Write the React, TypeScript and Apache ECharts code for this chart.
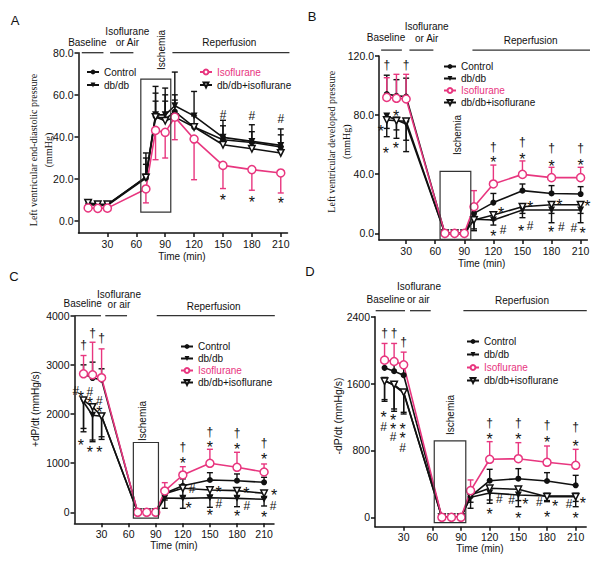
import React, { useEffect, useRef } from 'react';
import * as echarts from 'echarts';

const TIMES = [10, 20, 30, 70, 80, 90, 100, 120, 150, 180, 210];
const X_TICKS = [30, 60, 90, 120, 150, 180, 210];
const NAMES = ['Control', 'db/db', 'Isoflurane', 'db/db+isoflurane'];

// ---- Panel A: LV end-diastolic pressure (mmHg) ----
const ctrlA = [8, 7.5, 7.5, 20.5, 49.8, 48.5, 52, 44.7, 38.7, 37.4, 35.2];
const ctrlAErr = [9.5, 9, 9, 30, 60.8, 60, 57.5, 50, 45.3, 42.5, 41];
const dbA = [8.5, 7.8, 7.8, 21, 50.5, 50.5, 54.8, 50, 39.8, 37.9, 36];
const dbAErr = [9.8, 9.2, 9.2, 32.4, 64, 63.2, 70.8, 61.6, 47.9, 45.8, 43.8];
const isoA = [6.3, 6.1, 6.2, 15.3, 43.1, 42.2, 49.4, 39, 26.5, 24.5, 22.9];
const isoAErr = [5.5, 5.3, 5.4, 8.7, 29.2, 30, 38.7, 19.7, 15.5, 14.7, 13.4];
const dbisoA = [8.8, 8, 8, 20.8, 49.5, 47.7, 49.4, 44.7, 36.3, 34.4, 32.4];
const dbisoAErr = [9.6, 8.8, 8.8, 27, 57, 57, 60, 46, 40, 37.5, 35.5];
const yTicksA = [0, 20, 40, 60, 80];
const annA: [number, number, string][] = [
  [150, 50.5, '#'], [180, 50, '#'], [210, 48.5, '#'],
  [150, 11.8, '*'], [180, 11, '*'], [210, 10.3, '*'],
];
const periodsA = [[3.4, 25.9, 80], [32.8, 57, 80], [97.5, 219, 80]];
const boxA = [64.7, 95.8, 4.3, 67.5];
const boxLabelA = [85.8, 81.3];

// ---- Panel B: LV developed pressure (mmHg) ----
const ctrlB = [94.3, 93, 92.5, 0, 0, 0, 13.5, 20.8, 28.9, 27, 26.6];
const ctrlBErr = [107, 104, 105, null, null, null, 18, 27, 33.4, 32.3, 31.6];
const dbB = [79.4, 76.7, 74, 0, 0, 0, 9.5, 9, 15.8, 15.8, 15.8];
const dbBErr = [65.4, 64.3, 55.3, null, null, null, 1.8, 5.6, 10.6, 7.2, 7.2];
const isoB = [92, 91.4, 90.9, 0, 0, 0, 18, 33.4, 39.9, 37.7, 37.7];
const isoBErr = [105.3, 107.6, 107.6, null, null, null, 28.9, 46.2, 49, 44.7, 44.7];
const dbisoB = [76.7, 76.2, 75.8, 0, 0, 0, 9, 12.4, 18, 19.4, 19.4];
const dbisoBErr = [71, 70, 63, null, null, null, 3, 9, 13.5, 13.5, 13.5];
const yTicksB = [0, 40, 80, 120];
const annB: [number, number, string][] = [
  [10, 114, '†'], [30, 114, '†'], [4, 71.7, '*'], [19.7, 81.7, '*'], [9, 56.8, '*'], [19.5, 60.2, '*'],
  [120, 58.6, '†'], [120, 50.8, '*'], [150, 62, '†'], [150, 53, '*'],
  [180, 58, '†'], [180, 48, '*'], [210, 58, '†'], [210, 48.5, '*'],
  [128, 16.2, '*'], [158, 20.3, '*'], [188, 21.4, '*'], [217, 20.7, '*'],
  [120, 0.5, '*'], [130, 2.3, '#'], [148.5, 3.8, '*'], [158, 5, '#'],
  [179.5, 3.4, '*'], [190, 4.5, '#'], [203, 3.8, '#'], [212, 2.7, '*'],
];
const periodsB = [[4.2, 25.6, 124], [33.4, 58.1, 124], [98.4, 219.7, 124]];
const boxB = [65, 96.7, -4, 42];
const boxLabelB = [82.9, 66.5];

// ---- Panel C: +dP/dt (mmHg/s) ----
const ctrlC = [2818, 2731, 2697, 0, 0, 0, 386, 540, 657, 643, 610];
const ctrlCErr = [3000, 3055, 2920, null, null, null, 480, 680, 806, 780, 712];
const dbC = [2245, 1975, 1955, 0, 0, 0, 290, 284, 297, 284, 264];
const dbCErr = [1706, 1436, 1483, null, null, null, 81, 81, 101, 114, 128];
const isoC = [2818, 2798, 2738, 0, 0, 0, 434, 759, 997, 916, 820];
const isoCErr = [3190, 3460, 3325, null, null, null, 603, 928, 1282, 1221, 983];
const dbisoC = [2279, 2144, 1955, 0, 0, 0, 380, 488, 454, 440, 386];
const dbisoCErr = [1638, 1470, 1537, null, null, null, 250, 330, 340, 330, 300];
const yTicksC = [0, 1000, 2000, 3000, 4000];
const annC: [number, number, string][] = [
  [10, 3404, '†'], [20, 3642, '†'], [30, 3540, '†'],
  [1.5, 2474, '#'], [7.1, 2407, '*'], [17.1, 2454, '#'], [17.1, 2285, '*'], [27.4, 2271, '#'], [27.4, 2116, '*'],
  [7.1, 1437, '*'], [17.1, 1302, '*'], [27.4, 1302, '*'],
  [120, 1335, '†'], [120, 1064, '*'], [150, 1640, '†'], [150, 1404, '*'],
  [180, 1607, '†'], [180, 1369, '*'], [210, 1416, '†'], [210, 1146, '*'],
  [130.4, 468, '#'], [159.7, 488, '*'], [190.4, 468, '*'], [221, 419, '*'],
  [126.3, 162, '*'], [160, 162, '#'], [191, 128, '#'], [220, 128, '#'],
  [150, 13, '*'], [180, -8, '*'], [210, -20, '*'],
];
const periodsC = [[0, 29.3, 4000], [34.1, 58.2, 4000], [91.1, 221.9, 4000]];
const boxC = [65.2, 93, -120, 1420];
const boxLabelC = [75, 1858];

// ---- Panel D: -dP/dt (mmHg/s) ----
const ctrlD = [1788, 1748, 1700, 0, 0, 0, 250, 438, 462, 434, 383];
const ctrlDErr = [1900, 1870, 1820, null, null, null, 330, 574, 582, 534, 502];
const dbD = [1640, 1576, 1488, 0, 0, 0, 240, 290, 267, 255, 255];
const dbDErr = [1388, 1296, 1256, null, null, null, 108, 167, 127, 187, 127];
const isoD = [1880, 1864, 1824, 0, 0, 0, 319, 694, 701, 658, 622];
const isoDErr = [2080, 2080, 1976, null, null, null, 447, 905, 893, 853, 813];
const dbisoD = [1628, 1588, 1496, 0, 0, 0, 267, 347, 335, 247, 247];
const dbisoDErr = [1408, 1268, 1236, null, null, null, 180, 207, 200, 200, 190];
const yTicksD = [0, 800, 1600, 2400];
const annD: [number, number, string][] = [
  [10, 2208, '†'], [20, 2200, '†'], [30, 2096, '†'],
  [9, 1244, '*'], [9, 1084, '#'], [19, 1204, '*'], [19, 1104, '*'], [19, 964, '#'],
  [29, 1104, '*'], [29, 985, '*'], [29, 825, '#'],
  [120, 1124, '†'], [120, 973, '*'], [150, 1124, '†'], [150, 973, '*'],
  [180, 1104, '†'], [180, 945, '*'], [210, 1076, '†'], [210, 893, '*'],
  [130, 215, '#'], [120, 87, '*'], [143, 207, '#'], [157.3, 195, '*'], [150, 28, '*'],
  [172, 187, '#'], [188.4, 175, '*'], [180, 48, '*'], [203, 159, '#'], [217.6, 215, '*'], [210, 28, '*'],
];
const periodsD = [[0.7, 31.4, 2472], [36.6, 58.3, 2472], [92.5, 221.6, 2472]];
const boxD = [62, 95, -64, 915];
const boxLabelD = [79.5, 1224];

const PINK = '#e8367f';
const INK = '#111';
const SANS = 'Liberation Sans, Arial, sans-serif';
const SERIF = 'Liberation Serif, Times New Roman, serif';

const PANELS = [
  {
    grid: { left: 78.5, top: 52.7, width: 209, height: 180.3 },
    x: [0, 217], y: [-5.6, 80], yTicks: yTicksA, fmt: (v: number) => v.toFixed(1),
    groups: [[ctrlA, ctrlAErr], [dbA, dbAErr], [isoA, isoAErr], [dbisoA, dbisoAErr]],
    ann: annA, periods: periodsA, box: boxA, boxLabel: boxLabelA,
  },
  {
    grid: { left: 379, top: 56, width: 208.4, height: 184 },
    x: [2, 217], y: [-4.5, 120], yTicks: yTicksB, fmt: (v: number) => v.toFixed(1),
    groups: [[ctrlB, ctrlBErr], [dbB, dbBErr], [isoB, isoBErr], [dbisoB, dbisoBErr]],
    ann: annB, periods: periodsB, box: boxB, boxLabel: boxLabelB,
  },
  {
    grid: { left: 74.5, top: 315.7, width: 199.5, height: 207.6 },
    x: [0, 221], y: [-224, 4000], yTicks: yTicksC, fmt: (v: number) => String(v),
    groups: [[ctrlC, ctrlCErr], [dbC, dbCErr], [isoC, isoCErr], [dbisoC, dbisoCErr]],
    ann: annC, periods: periodsC, box: boxC, boxLabel: boxLabelC,
  },
  {
    grid: { left: 375, top: 316.7, width: 211.2, height: 210 },
    x: [0, 221], y: [-112.5, 2400], yTicks: yTicksD, fmt: (v: number) => String(v),
    groups: [[ctrlD, ctrlDErr], [dbD, dbDErr], [isoD, isoDErr], [dbisoD, dbisoDErr]],
    ann: annD, periods: periodsD, box: boxD, boxLabel: boxLabelD,
  },
];

const STYLES = [
  { symbol: 'circle', symbolSize: 6, symbolRotate: 0, fill: INK, stroke: INK },
  { symbol: 'triangle', symbolSize: 7, symbolRotate: 180, fill: INK, stroke: INK },
  { symbol: 'circle', symbolSize: 8, symbolRotate: 0, fill: '#fff', stroke: PINK },
  { symbol: 'triangle', symbolSize: 6.5, symbolRotate: 180, fill: '#fff', stroke: INK },
];

function buildOption() {
  const series: any[] = [];
  const grid: any[] = [];
  const xAxis: any[] = [];
  const yAxis: any[] = [];
  PANELS.forEach((p, pi) => {
    grid.push({ ...p.grid, outerBoundsMode: 'none', containLabel: false });
    xAxis.push({
      gridIndex: pi, type: 'value', min: p.x[0], max: p.x[1],
      axisLine: { onZero: false, lineStyle: { color: INK, width: 1.5 } },
      axisTick: { customValues: X_TICKS, length: 4, lineStyle: { color: INK, width: 1.5 } },
      axisLabel: { customValues: X_TICKS, margin: 5, fontSize: 10.5, color: INK, fontFamily: SANS },
      splitLine: { show: false },
    });
    yAxis.push({
      gridIndex: pi, type: 'value', min: p.y[0], max: p.y[1],
      axisLine: { show: true, onZero: false, lineStyle: { color: INK, width: 1.5 } },
      axisTick: { show: true, customValues: p.yTicks, length: 4, lineStyle: { color: INK, width: 1.5 } },
      axisLabel: { customValues: p.yTicks, margin: 5, fontSize: 10.5, color: INK, fontFamily: SANS, formatter: p.fmt },
      splitLine: { show: false },
    });
    // error bars
    p.groups.forEach((g, gi) => {
      const vals = g[0] as number[];
      const errs = g[1] as (number | null)[];
      const st = STYLES[gi];
      const data = TIMES.map((t, i) => [t, vals[i], errs[i]]).filter((d) => d[2] != null);
      series.push({
        type: 'custom', name: `err${pi}${gi}`, xAxisIndex: pi, yAxisIndex: pi, clip: false, silent: true, z: 1,
        data,
        renderItem: (params: any, api: any) => {
          const p0 = api.coord([api.value(0), api.value(1)]);
          const p1 = api.coord([api.value(0), api.value(2)]);
          const s = { stroke: st.stroke, lineWidth: 1.4 };
          return {
            type: 'group',
            children: [
              { type: 'line', shape: { x1: p0[0], y1: p0[1], x2: p1[0], y2: p1[1] }, style: s },
              { type: 'line', shape: { x1: p1[0] - 3, y1: p1[1], x2: p1[0] + 3, y2: p1[1] }, style: s },
            ],
          };
        },
      });
    });
    // lines
    [0, 1, 3, 2].forEach((gi) => {
      const vals = p.groups[gi][0] as number[];
      const st = STYLES[gi];
      series.push({
        type: 'line', name: NAMES[gi], xAxisIndex: pi, yAxisIndex: pi, clip: false, z: 2,
        data: TIMES.map((t, i) => [t, vals[i]]),
        symbol: st.symbol, symbolSize: st.symbolSize, symbolRotate: st.symbolRotate,
        showAllSymbol: true,
        lineStyle: { color: st.stroke, width: 1.6 },
        itemStyle: { color: st.fill, borderColor: st.stroke, borderWidth: st.fill === '#fff' ? 1.5 : 0 },
        emphasis: { disabled: true },
      });
    });
    // annotations
    const ann = p.ann;
    series.push({
      type: 'custom', name: `ann${pi}`, xAxisIndex: pi, yAxisIndex: pi, clip: false, silent: true, z: 3,
      data: ann.map((a) => [a[0], a[1]]),
      renderItem: (params: any, api: any) => {
        const a = ann[params.dataIndex];
        const c = api.coord([a[0], a[1]]);
        const star = a[2] === '*';
        return {
          type: 'text', x: c[0], y: c[1] + (star ? 4 : 0),
          style: { text: a[2], fontSize: star ? 16 : 12, fontFamily: SANS, fill: INK, align: 'center', verticalAlign: 'middle' },
        };
      },
    });
    // period lines
    series.push({
      type: 'custom', name: `per${pi}`, xAxisIndex: pi, yAxisIndex: pi, clip: false, silent: true, z: 3,
      data: p.periods,
      renderItem: (params: any, api: any) => {
        const a = api.coord([api.value(0), api.value(2)]);
        const b = api.coord([api.value(1), api.value(2)]);
        return { type: 'line', shape: { x1: a[0], y1: a[1], x2: b[0], y2: b[1] }, style: { stroke: '#333', lineWidth: 1.3 } };
      },
    });
    // ischemia box
    const bx = p.box;
    const bl = p.boxLabel;
    series.push({
      type: 'custom', name: `box${pi}`, xAxisIndex: pi, yAxisIndex: pi, clip: false, silent: true, z: 3,
      data: [[bx[0], bx[2], bx[1], bx[3]]],
      renderItem: (params: any, api: any) => {
        const a = api.coord([bx[0], bx[3]]);
        const b = api.coord([bx[1], bx[2]]);
        const t = api.coord([bl[0], bl[1]]);
        return {
          type: 'group',
          children: [
            { type: 'rect', shape: { x: a[0], y: a[1], width: b[0] - a[0], height: b[1] - a[1] }, style: { fill: 'none', stroke: '#333', lineWidth: 1.2 } },
            { type: 'text', x: t[0], y: t[1], rotation: Math.PI / 2, style: { text: 'Ischemia', fontSize: 10, fontFamily: SANS, fill: INK, align: 'center', verticalAlign: 'middle' } },
          ],
        };
      },
    });
  });

  const legendBase = {
    orient: 'vertical', padding: 0, itemWidth: 12, itemHeight: 6, selectedMode: false,
    textStyle: { fontSize: 10, fontFamily: SANS, color: INK, lineHeight: 12 },
  };
  const isoItem = { name: 'Isoflurane', textStyle: { color: PINK } };
  const legend = [
    { ...legendBase, left: 86, top: 66, itemGap: 1, data: ['Control', 'db/db'] },
    { ...legendBase, left: 199, top: 66, itemGap: 1, data: [isoItem, 'db/db+isoflurane'] },
    { ...legendBase, left: 443, top: 60.5, itemGap: 0, data: ['Control', 'db/db', isoItem, 'db/db+isoflurane'] },
    { ...legendBase, left: 180, top: 340.5, itemGap: 0, data: ['Control', 'db/db', isoItem, 'db/db+isoflurane'] },
    { ...legendBase, left: 466, top: 335.5, itemGap: 1, data: ['Control', 'db/db', isoItem, 'db/db+isoflurane'] },
  ];

  const txt = (text: string, x: number, y: number, opts: any = {}) => ({
    type: 'text', x, y, rotation: opts.rot || 0, silent: true,
    style: {
      text, fontSize: opts.size || 10, fontFamily: opts.font || SANS, fill: INK,
      align: 'center', verticalAlign: 'middle', lineHeight: opts.lh,
    },
  });
  const R = Math.PI / 2;
  const graphic = [
    txt('A', 15, 20, { size: 13 }), txt('B', 312, 16, { size: 13 }),
    txt('C', 14, 276, { size: 13 }), txt('D', 310, 271, { size: 13 }),
    // A
    txt('Baseline', 87.3, 42), txt('Isoflurane', 127.3, 31.7), txt('or Air', 127.3, 42), txt('Reperfusion', 229.3, 42),
    txt('Left ventricular end-diastolic pressure', 33.3, 150, { rot: R, font: SERIF }),
    txt('(mmHg)', 48.3, 150, { rot: R, font: SERIF }),
    txt('Time (min)', 182, 256),
    // B
    txt('Baseline', 386, 37.3), txt('Isoflurane', 426.7, 26), txt('or Air', 426.7, 38.3), txt('Reperfusion', 530.7, 40.7),
    txt('Left ventricular developed pressure', 331.7, 141.7, { rot: R, font: SERIF }),
    txt('(mmHg)', 346.7, 141.7, { rot: R, font: SERIF }),
    txt('Time (min)', 481.7, 263),
    // C
    txt('Baseline', 82.7, 303.3), txt('Isoflurane', 119, 294), txt('or air', 119, 304.3), txt('Reperfusion', 213.7, 306.7),
    txt('+dP/dt (mmHg/s)', 35, 409, { rot: R, size: 10 }),
    txt('Time (min)', 174, 545),
    // D
    txt('Isoflurane', 419, 286), txt('Baseline', 385.7, 299.3), txt('or air', 418.3, 299.3), txt('Reperfusion', 522, 300.7),
    txt('-dP/dt (mmHg/s)', 338, 416, { rot: R, size: 10.5 }),
    txt('Time (min)', 480, 548),
  ];

  return {
    animation: false,
    backgroundColor: '#fff',
    grid, xAxis, yAxis, series, legend, graphic,
    tooltip: { show: false },
  };
}

export default function App() {
  const ref = useRef<HTMLDivElement>(null);
  useEffect(() => {
    if (!ref.current) return;
    const chart = echarts.init(ref.current, undefined, { renderer: 'svg' });
    chart.setOption(buildOption() as any);
    return () => chart.dispose();
  }, []);
  return (
    <div
      ref={ref}
      style={{ position: 'absolute', left: 0, top: 0, width: 601, height: 565, background: '#fff' }}
    />
  );
}
